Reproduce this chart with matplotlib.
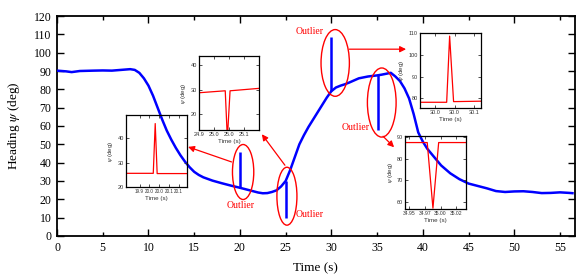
import numpy as np
import matplotlib
matplotlib.use("Agg")
import matplotlib.pyplot as plt
from matplotlib.patches import Ellipse
from matplotlib.ticker import FixedLocator, FuncFormatter

# ---------------- data ----------------
time_s = [0, 1, 1.6, 2.5, 4, 5, 6, 7, 8, 8.5, 9, 9.5, 10, 10.5, 11, 11.5, 12, 12.5,
          13, 13.5, 14, 14.5, 15, 15.5, 16, 17, 18, 19, 20, 21, 22, 22.5, 23, 23.5,
          24, 24.5, 25, 25.5, 26, 26.5, 27, 27.5, 28, 28.5, 29, 29.5, 30, 30.5, 31,
          31.5, 32, 33, 34, 35, 35.5, 36, 36.5, 37, 37.5, 38, 38.5, 39, 39.5, 40,
          40.5, 41, 42, 43, 44, 45, 46, 47, 48, 49, 50, 51, 52, 53, 54, 55, 56, 56.5]
heading = [90.2, 89.8, 89.4, 90.0, 90.2, 90.3, 90.2, 90.6, 91.0, 90.6, 89.0, 86.0,
           82.0, 76.5, 70.0, 63.5, 57.5, 52.5, 48.0, 44.0, 40.5, 37.5, 35.0, 33.3,
           32.0, 30.2, 28.8, 27.5, 26.3, 25.0, 23.7, 23.3, 23.4, 24.0, 24.9, 27.0,
           30.0, 36.0, 43.0, 50.0, 55.0, 59.5, 63.5, 67.5, 71.5, 75.5, 79.0, 81.0,
           82.0, 82.8, 83.8, 86.0, 87.0, 87.6, 88.0, 88.5, 89.0, 87.0, 84.5, 80.5,
           75.0, 66.5, 56.5, 51.5, 47.5, 44.5, 38.5, 34.2, 31.0, 28.6, 27.3, 26.0,
           24.5, 24.0, 24.3, 24.4, 24.0, 23.4, 23.5, 23.8, 23.5, 23.3]

outlier_t = [20.0, 25.0, 30.0, 35.1]
outlier_v = [46.0, 10.0, 108.3, 57.7]

# insets (zoomed views of the outliers)
in1_t = [19.83, 19.97, 19.98, 19.99, 20.145]
in1_v = [25.7, 25.7, 46.0, 25.6, 25.6]
in1_ticks = [19.90, 19.95, 20.00, 20.05, 20.10]
in1_labels = ["19.9", "20.0", "20.0", "20.1", "20.1"]

in2_t = [24.9, 24.987, 24.994, 25.003, 25.1]
in2_v = [28.7, 29.5, 10.0, 29.5, 30.5]
in2_ticks = [24.90, 24.95, 25.00, 25.05]
in2_labels = ["24.9", "25.0", "25.0", "25.1"]

in3_t = [29.9125, 29.98, 29.9875, 29.9975, 30.067]
in3_v = [78.2, 78.2, 108.7, 78.5, 78.7]
in3_ticks = [29.95, 30.00, 30.05]
in3_labels = ["30.0", "30.0", "30.1"]

in4_t = [34.944, 34.979, 34.988, 34.997, 35.04]
in4_v = [87.3, 87.3, 57.3, 87.3, 87.3]
in4_ticks = [34.95, 34.975, 35.00, 35.025]
in4_labels = ["34.95", "34.97", "35.00", "35.02"]

# ---------------- style ----------------
plt.rcParams['mathtext.fontset'] = 'stix'
SERIF = ['Liberation Serif', 'DejaVu Serif']
SANS = ['Liberation Sans', 'DejaVu Sans']
BLUE = '#0000ff'
RED = '#ff0000'

fig = plt.figure(figsize=(5.76, 2.76), dpi=100)
ax = fig.add_axes([0.099, 0.145, 0.8986, 0.797])

ax.plot(time_s, heading, color=BLUE, lw=1.8, zorder=5, solid_capstyle='butt')
base_v = np.interp(outlier_t, time_s, heading)
ax.vlines(outlier_t, base_v, outlier_v, color=BLUE, lw=1.8, zorder=5)

ax.set_xlim(0, 56.6)
ax.set_ylim(0, 120)
ax.xaxis.set_major_locator(FixedLocator([0, 10, 20, 30, 40, 50]))
ax.xaxis.set_minor_locator(FixedLocator([5, 15, 25, 35, 45, 55]))
ax.xaxis.set_minor_formatter(FuncFormatter(lambda v, p: f"{v:g}"))
ax.yaxis.set_major_locator(FixedLocator(list(range(0, 121, 10))))
ax.tick_params(which='both', direction='in', top=True, right=True, width=1.0)
ax.tick_params(which='major', length=5)
ax.tick_params(which='minor', length=3)
ax.tick_params(which='both', labelsize=8.5, pad=4)
for lab in ax.get_xticklabels(which='both') + ax.get_yticklabels():
    lab.set_family(SERIF)
for s in ax.spines.values():
    s.set_linewidth(1.3)
ax.set_xlabel("Time (s)", family=SERIF, fontsize=9.5, labelpad=6)
ax.set_ylabel(r"Heading $\psi$ (deg)", family=SERIF, fontsize=9.5, labelpad=8)

# ellipses
ell = [(20.35, 34.9, 2.33, 30.0), (25.14, 21.7, 2.19, 31.6),
       (30.42, 94.4, 3.1, 36.4), (35.51, 72.8, 3.14, 37.7)]
for cx, cy, w, h in ell:
    ax.add_patch(Ellipse((cx, cy), w, h, fill=False, edgecolor=RED, lw=1.0, zorder=6))

# Outlier labels
for tx, ty in [(20.1, 16.8), (27.6, 11.8), (27.6, 111.7), (32.6, 59.3)]:
    ax.text(tx, ty, "Outlier", color=RED, family=SERIF, fontsize=7,
            ha='center', va='center', zorder=7)

# arrows
arrows = [((19.08, 40.4), (14.33, 48.6)), ((24.92, 38.6), (22.4, 55.5)),
          ((31.96, 101.9), (38.17, 101.9)), ((35.65, 54.4), (36.86, 48.4))]
for st, en in arrows:
    ax.annotate('', xy=en, xytext=st,
                arrowprops=dict(arrowstyle='-|>', color=RED, lw=0.9,
                                mutation_scale=9, shrinkA=0, shrinkB=0),
                annotation_clip=False, zorder=7)


def make_inset(rect, t, v, xlim, ylim, xticks, xlabels, yticks, xls=4):
    ia = fig.add_axes(rect)
    ia.set_facecolor('none')
    ia.plot(t, v, color=RED, lw=0.9)
    ia.set_xlim(*xlim)
    ia.set_ylim(*ylim)
    ia.set_xticks(xticks)
    ia.set_xticklabels(xlabels)
    ia.set_yticks(yticks)
    ia.tick_params(direction='in', top=True, right=True, length=2, width=0.6,
                   labelsize=4, pad=1.5, colors='#333333')
    ia.tick_params(axis='x', labelsize=xls)
    for lab in ia.get_xticklabels() + ia.get_yticklabels():
        lab.set_family(SANS)
    for s in ia.spines.values():
        s.set_linewidth(0.9)
    ia.set_xlabel("Time (s)", family=SANS, fontsize=4.5, labelpad=1.5, color='#333333')
    ia.set_ylabel(r"$\psi$ (deg)", family=SANS, fontsize=4.5, labelpad=1.5, color='#333333')
    return ia


make_inset([0.2188, 0.3214, 0.1064, 0.262], in1_t, in1_v, (19.83, 20.145), (20, 49.5),
           in1_ticks, in1_labels, [20, 30, 40], xls=3.3)
make_inset([0.3455, 0.529, 0.1047, 0.269], in2_t, in2_v, (24.9, 25.1), (13.5, 43.8),
           in2_ticks, in2_labels, [20, 30, 40])
make_inset([0.7292, 0.6098, 0.1059, 0.2696], in3_t, in3_v, (29.9125, 30.067), (75.7, 110),
           in3_ticks, in3_labels, [80, 90, 100, 110])
make_inset([0.7031, 0.2417, 0.1059, 0.2656], in4_t, in4_v, (34.944, 35.04), (56.8, 90.3),
           in4_ticks, in4_labels, [60, 70, 80, 90], xls=3.6)

fig.savefig("out.png", dpi=100)
